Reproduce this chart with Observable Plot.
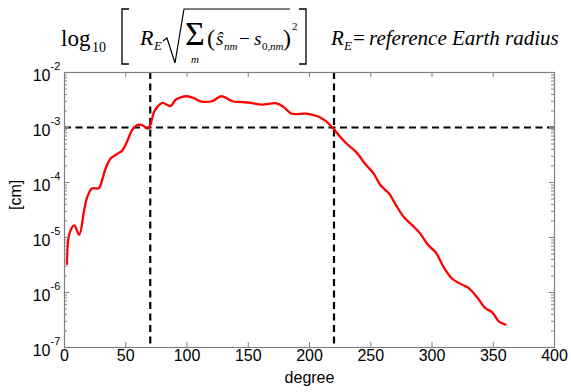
<!DOCTYPE html>
<html>
<head>
<meta charset="utf-8">
<script src="https://cdn.jsdelivr.net/npm/d3@7"></script>
<script src="https://cdn.jsdelivr.net/npm/@observablehq/plot@0.6"></script>
<style>
  html, body { margin: 0; padding: 0; background: white; }
</style>
</head>
<body>
<div id="chart"></div>
<script>
// ---- data ----
const degree = [2, 4, 8, 12, 16, 18.5, 22.5, 28, 31, 33.5, 37.5, 43, 47, 51, 55, 59, 63, 68, 70, 73, 76, 80,
  86.5, 90.5, 95, 100, 105, 111, 120.5, 128, 137, 145, 152, 161, 173, 179, 185, 197, 206, 212.5, 218.5,
  225, 231, 238, 246, 252, 258, 265, 270, 277, 284, 290.5, 297, 303, 309.5, 316.5, 323, 330, 337, 343.5,
  349, 354.5, 360];
const valueCm = [3.3e-6, 1.17e-5, 1.66e-5, 1.12e-5, 3.1e-5, 5.4e-5, 7.8e-5, 7.9e-5, 1.17e-4, 1.78e-4,
  2.7e-4, 3.3e-4, 3.8e-4, 5.5e-4, 8.9e-4, 1.10e-3, 1.12e-3, 9.5e-4, 1.10e-3, 1.9e-3, 2.4e-3, 2.8e-3,
  2.45e-3, 3.16e-3, 3.55e-3, 3.7e-3, 3.47e-3, 3.0e-3, 3.0e-3, 3.7e-3, 3.0e-3, 2.9e-3, 2.8e-3, 2.6e-3,
  2.75e-3, 2.35e-3, 1.8e-3, 1.78e-3, 1.62e-3, 1.35e-3, 1.02e-3, 6.8e-4, 4.9e-4, 3.6e-4, 2.1e-4, 1.5e-4,
  8.9e-5, 6.3e-5, 4.1e-5, 2.35e-5, 1.66e-5, 1.17e-5, 7.2e-6, 5.4e-6, 2.9e-6, 1.78e-6, 1.45e-6, 1.2e-6,
  8.1e-7, 5.2e-7, 4.4e-7, 3.0e-7, 2.6e-7];
const xTicks = [0, 50, 100, 150, 200, 250, 300, 350, 400];
const yTicks = [1e-7, 1e-6, 1e-5, 1e-4, 1e-3, 1e-2];
const yTickExponents = ["-7", "-6", "-5", "-4", "-3", "-2"];
const thresholdDegrees = [70, 220];
const thresholdValue = [1e-3];
const xLabel = "degree";
const yLabel = "[cm]";

// ---- build ----
const rows = degree.map((d, i) => ({degree: d, value: valueCm[i]}));
const yMinor = [];
for (let k = -7; k < -2; k++) for (let m = 2; m <= 9; m++) yMinor.push(m * Math.pow(10, k));

const W = 571, H = 392, mt = 72, mb = 45, ml = 64, mr = 17;
const pw = W - ml - mr, ph = H - mt - mb;
const axisGrey = "#808080";

const chart = Plot.plot({
  width: W, height: H,
  marginTop: mt, marginBottom: mb, marginLeft: ml, marginRight: mr,
  style: {fontFamily: "'Liberation Sans', Arial, sans-serif", fontSize: "16px", background: "white", color: "black"},
  x: {domain: [0, 400], axis: null},
  y: {type: "log", domain: [1e-7, 1e-2], axis: null},
  marks: [
    Plot.ruleX(thresholdDegrees, {x: d => d, stroke: "black", strokeWidth: 2.2, strokeDasharray: "7,4.5"}),
    Plot.ruleY(thresholdValue, {y: d => d, stroke: "black", strokeWidth: 2.2, strokeDasharray: "7,4.5"}),
    Plot.line(rows, {x: "degree", y: "value", stroke: "#ff0000", strokeWidth: 2.3, curve: "catmull-rom"}),
    Plot.frame({stroke: axisGrey, strokeWidth: 1.2}),
    // inward ticks (MATLAB style box)
    Plot.tickX(xTicks, {x: d => d, stroke: axisGrey, insetBottom: ph - 5}),
    Plot.tickX(xTicks, {x: d => d, stroke: axisGrey, insetTop: ph - 5}),
    Plot.tickY(yTicks, {y: d => d, stroke: axisGrey, insetRight: pw - 5}),
    Plot.tickY(yTicks, {y: d => d, stroke: axisGrey, insetLeft: pw - 5}),
    Plot.tickY(yMinor, {y: d => d, stroke: axisGrey, insetRight: pw - 3}),
    Plot.tickY(yMinor, {y: d => d, stroke: axisGrey, insetLeft: pw - 3}),
    // tick labels
    Plot.text(xTicks, {x: d => d, frameAnchor: "bottom", dy: 13, text: d => String(d), fontSize: 16}),
    Plot.text(yTicks, {x: () => 0, y: d => d, text: () => "10", textAnchor: "end", dx: -14, dy: 3, fontSize: 16}),
    Plot.text(yTicks, {x: () => 0, y: d => d, text: (d, i) => yTickExponents[i], textAnchor: "start", dx: -14, dy: -6, fontSize: 11}),
    // axis labels
    Plot.text([xLabel], {frameAnchor: "bottom", dy: 35, fontSize: 16}),
    Plot.text([yLabel], {frameAnchor: "left", dx: -49, rotate: -90, fontSize: 16})
  ]
});
document.getElementById("chart").appendChild(chart);

// ---- formula heading ----
const svg = d3.select(chart);
const g = svg.append("g").attr("font-family", "'Liberation Serif', 'Times New Roman', serif").attr("fill", "black");
function t(x, y, s, size, italic, anchor) {
  g.append("text").attr("x", x).attr("y", y).attr("font-size", size)
    .attr("font-style", italic ? "italic" : "normal")
    .attr("text-anchor", anchor || "start").text(s);
}
function p(d, w) {
  g.append("path").attr("d", d).attr("fill", "none").attr("stroke", "black").attr("stroke-width", w || 1.3);
}
t(61, 46, "log", 23);
t(92, 52, "10", 14);
p("M129,9 H122 V64 H129");
t(140, 45, "R", 22, true);
t(154, 50, "E", 13, true);
p("M163,41 L167,38 L175,63 L184,9 H290", 1.2);
t(185, 45, "Σ", 34);
t(195, 63, "m", 11, true, "middle");
t(207, 46, "(", 24);
t(216, 45, "ŝ", 19, true);
t(224, 50, "nm", 11, true);
t(239, 45, "−", 19);
t(254, 45, "s", 19, true);
t(262, 50, "0,", 11);
t(270, 50, "nm", 11, true);
t(283, 46, ")", 24);
t(292, 30, "2", 11);
p("M299,9 H306 V64 H299");
t(331, 45, "R", 21, true);
t(344, 50, "E", 13, true);
t(353, 45, "=", 21);
t(369, 45, "reference Earth radius", 21, true);
</script>
</body>
</html>
